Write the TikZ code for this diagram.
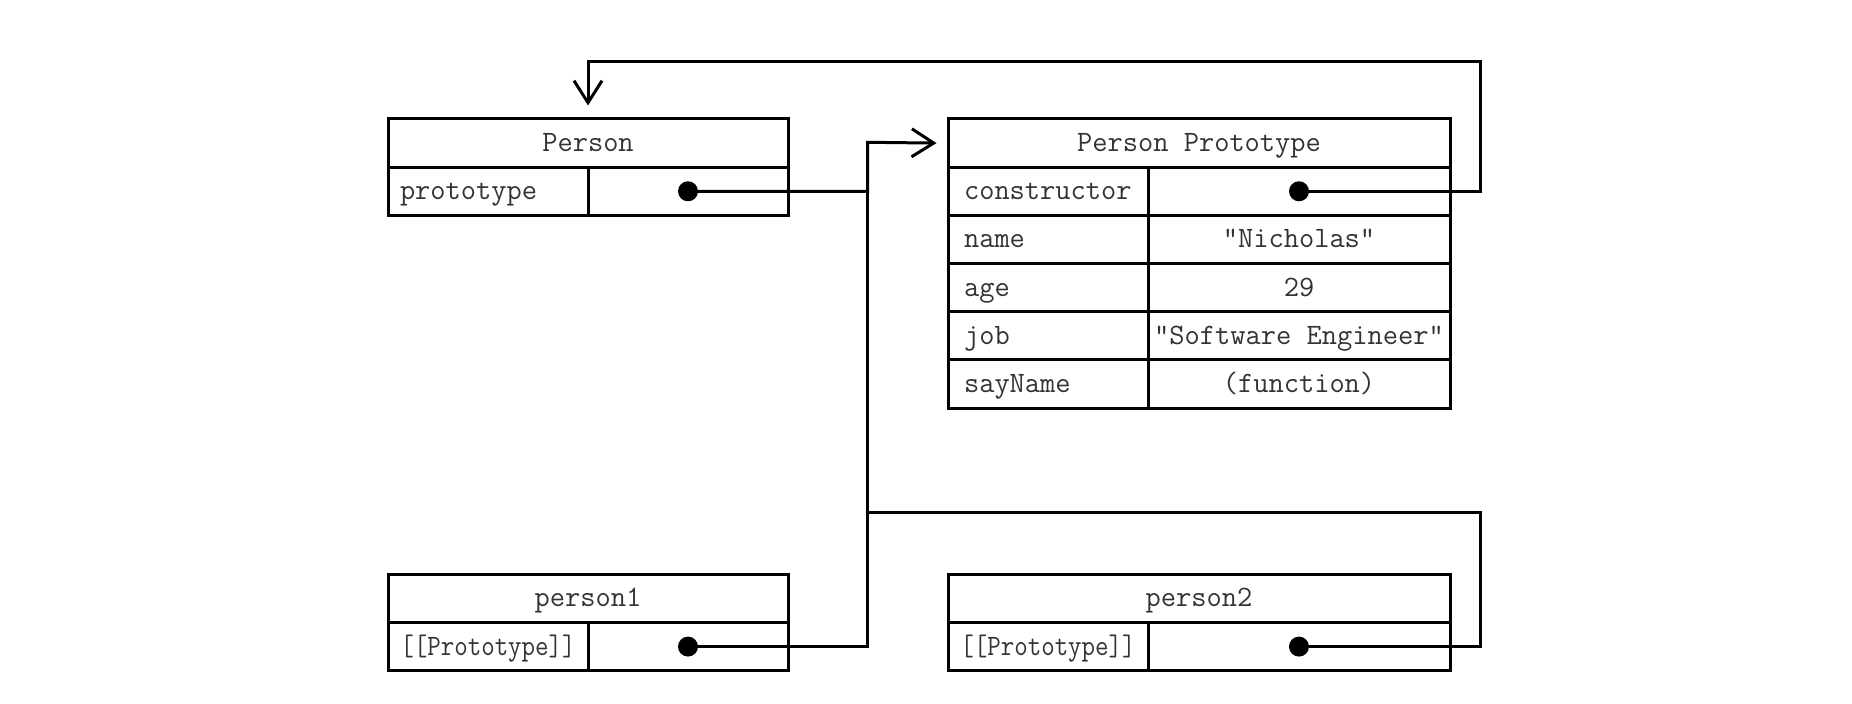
\documentclass[tikz,border=0pt]{standalone}
\usepackage{fontspec}
\usetikzlibrary{arrows.meta}
\tikzset{
  cell/.style={draw, line width=1.5pt, minimum height=24.1pt, inner sep=0pt,
    text height=8.5pt, text depth=0pt,
    font=\ttfamily\fontsize{14.8}{17}\selectfont, text=black!80},
  wcell/.style={cell, minimum width=#1},
  lab/.style 2 args={cell, text width=#1, inner xsep=#2, align=left},
  conn/.style={line width=1.5pt},
  tipped/.style={-{Straight Barb[length=11pt,width=14pt]}},
  dotfill/.style={fill=black}
}
\begin{document}
\begin{tikzpicture}[x=0.5pt, y=-0.5pt]
\useasboundingbox (0,0) rectangle (1852,704);

% Person
\node[wcell=200pt] (phd) at (588,143.1) {Person};
\node[lab={88pt}{6pt}] (pl) at (488,191.3) {prototype};
\node[wcell=100pt] (pv) at (688,191.3) {};

% Person Prototype
\node[wcell=251pt] (prh) at (1199,143.1) {Person Prototype};
\node[lab={84pt}{8pt}] (l1) at (1048,191.3) {constructor};
\node[wcell=151pt] (v1) at (1299,191.3) {};
\node[lab={84pt}{8pt}] (l2) at (1048,239.5) {name};
\node[wcell=151pt] (v2) at (1299,239.5) {"Nicholas"};
\node[lab={84pt}{8pt}] (l3) at (1048,287.7) {age};
\node[wcell=151pt] (v3) at (1299,287.7) {29};
\node[lab={84pt}{8pt}] (l4) at (1048,335.9) {job};
\node[wcell=151pt] (v4) at (1299,335.9) {"Software Engineer"};
\node[lab={84pt}{8pt}] (l5) at (1048,384.1) {sayName};
\node[wcell=151pt] (v5) at (1299,384.1) {(function)};

% person1
\node[wcell=200pt] (p1h) at (588,598.4) {person1};
\node[wcell=100pt] (p1l) at (488,646.6) {\scalebox{0.885}[1]{[[Prototype]]}};
\node[wcell=100pt] (p1v) at (688,646.6) {};

% person2
\node[wcell=251pt] (p2h) at (1199,598.4) {person2};
\node[wcell=100pt] (p2l) at (1048,646.6) {\scalebox{0.885}[1]{[[Prototype]]}};
\node[wcell=151pt] (p2v) at (1299,646.6) {};

% routing points
\coordinate (j1) at (867.7,142.3);
\coordinate (j2) at (867.7,512.3);
\coordinate (r1) at (1480,62);
\coordinate (r2) at (1480,512.3);
\coordinate (tin) at ([xshift=-5pt]prh.west);
\coordinate (ttop) at ([yshift=6pt]phd.north);

% connectors
\draw[conn, tipped] (pv.center) -| (j1) -- (tin);
\draw[conn] (p1v.center) -| (j1);
\draw[conn] (p2v.center) -| (r2) -- (j2);
\draw[conn, tipped] (v1.center) -| (r1) -| (ttop);

% dots
\fill[dotfill] (pv.center) circle (5pt);
\fill[dotfill] (v1.center) circle (5pt);
\fill[dotfill] (p1v.center) circle (5pt);
\fill[dotfill] (p2v.center) circle (5pt);
\end{tikzpicture}
\end{document}
